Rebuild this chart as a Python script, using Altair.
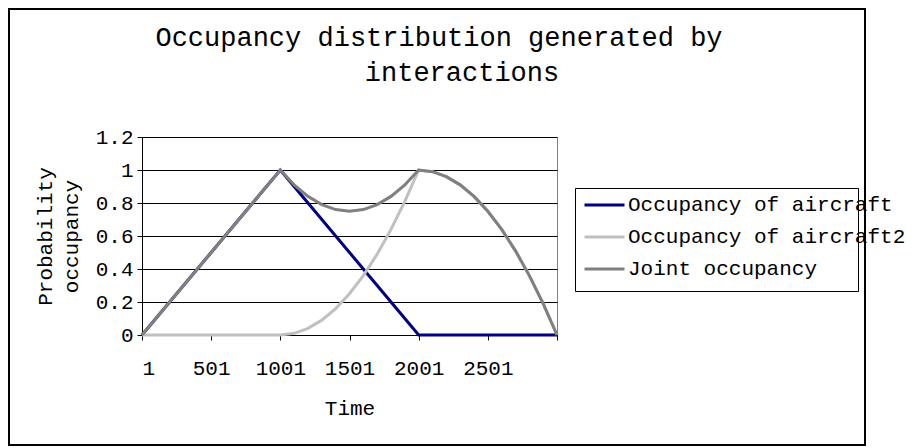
import altair as alt
import pandas as pd

# ---- data ----
time = [1, 101, 201, 301, 401, 501, 601, 701, 801, 901, 1001,
        1101, 1201, 1301, 1401, 1501, 1601, 1701, 1801, 1901, 2001,
        2101, 2201, 2301, 2401, 2501, 2601, 2701, 2801, 2901, 3001]
aircraft = [0, 0.1, 0.2, 0.3, 0.4, 0.5, 0.6, 0.7, 0.8, 0.9, 1.0,
            0.9, 0.8, 0.7, 0.6, 0.5, 0.4, 0.3, 0.2, 0.1, 0,
            0, 0, 0, 0, 0, 0, 0, 0, 0, 0]
aircraft2 = [0, 0, 0, 0, 0, 0, 0, 0, 0, 0, 0,
             0.01, 0.04, 0.09, 0.16, 0.25, 0.36, 0.49, 0.64, 0.81, 1.0,
             0.99, 0.96, 0.91, 0.84, 0.75, 0.64, 0.51, 0.36, 0.19, 0]
joint = [0, 0.1, 0.2, 0.3, 0.4, 0.5, 0.6, 0.7, 0.8, 0.9, 1.0,
         0.91, 0.84, 0.79, 0.76, 0.75, 0.76, 0.79, 0.84, 0.91, 1.0,
         0.99, 0.96, 0.91, 0.84, 0.75, 0.64, 0.51, 0.36, 0.19, 0]

series_names = ["Occupancy of aircraft", "Occupancy of aircraft2", "Joint occupancy"]
series_colors = ["#000080", "#C0C0C0", "#808080"]
x_ticks = [1, 501, 1001, 1501, 2001, 2501, 3001]
y_ticks = [0, 0.2, 0.4, 0.6, 0.8, 1.0, 1.2]
title_lines = ["Occupancy distribution generated by", "interactions"]

rows = []
for name, vals in zip(series_names, [aircraft, aircraft2, joint]):
    for t, v in zip(time, vals):
        rows.append({"time": t, "value": v, "series": name})
df = pd.DataFrame(rows)
one = pd.DataFrame({"k": [0]})

FONT = "Liberation Mono"

color_scale = alt.Scale(domain=series_names, range=series_colors)
legend = alt.Legend(
    title=None, orient="none", legendX=441, legendY=46.5,
    symbolType="stroke", symbolSize=1600, symbolStrokeWidth=3,
    labelFont=FONT, labelFontSize=21, labelColor="black", labelLimit=400,
    labelOffset=2, rowPadding=-11.5, padding=0,
)

x_enc = alt.X("time:Q", scale=alt.Scale(domain=[1, 3001], nice=False, zero=False),
              axis=alt.Axis(values=x_ticks, format="d",
                            labelExpr="datum.value == 3001 ? '' : datum.label",
                            title="Time", titleBaseline="middle", titleY=73,
                            labelBaseline="middle", labelPadding=28, grid=False))
y_axis = alt.Axis(values=y_ticks, format="~g", title=["Probability", "occupancy"],
                  titleLineHeight=26, titleBaseline="middle", titleAlign="center",
                  titleX=-97, titleY=99, labelPadding=4)
y_scale = alt.Scale(domain=[0, 1.2], nice=False)

def line(name):
    return alt.Chart(df).transform_filter(
        alt.datum.series == name
    ).mark_line(strokeWidth=3).encode(
        x=x_enc,
        y=alt.Y("value:Q", scale=y_scale, axis=y_axis),
        color=alt.Color("series:N", scale=color_scale, legend=legend),
    )

frame = alt.Chart(one).mark_rect(fill="white", fillOpacity=0, stroke="black", strokeWidth=2).encode(
    x=alt.value(-133), x2=alt.value(723), y=alt.value(-128), y2=alt.value(308))
legend_box = alt.Chart(one).mark_rect(fill="white", fillOpacity=0, stroke="black", strokeWidth=1).encode(
    x=alt.value(433.5), x2=alt.value(716.5), y=alt.value(51.5), y2=alt.value(154.5))
t1 = alt.Chart(one).mark_text(font=FONT, fontSize=27, baseline="alphabetic", align="center", color="black").encode(
    x=alt.value(297), y=alt.value(-91), text=alt.value(title_lines[0]))
t2 = alt.Chart(one).mark_text(font=FONT, fontSize=27, baseline="alphabetic", align="center", color="black").encode(
    x=alt.value(320), y=alt.value(-56), text=alt.value(title_lines[1]))

chart = alt.layer(
    frame, legend_box, t1, t2,
    line(series_names[0]),
    line(series_names[1]),
    line(series_names[2]),
).properties(
    width=415, height=198,
    autosize=alt.AutoSizeParams(type="none"),
    padding={"left": 134, "top": 129, "right": 349, "bottom": 113},
    background="white",
).configure_view(
    stroke="#808080", strokeWidth=1
).configure_axis(
    labelFont=FONT, labelFontSize=21, labelColor="black",
    titleFont=FONT, titleFontSize=21, titleColor="black", titleFontWeight="normal",
    domainColor="black", domainWidth=1, tickColor="black", tickSize=5, tickWidth=1,
    gridColor="black", gridWidth=1, gridOpacity=1,
).configure_axisY(grid=True)

chart.save("out.html", embed_options={"renderer": "svg", "actions": False})
